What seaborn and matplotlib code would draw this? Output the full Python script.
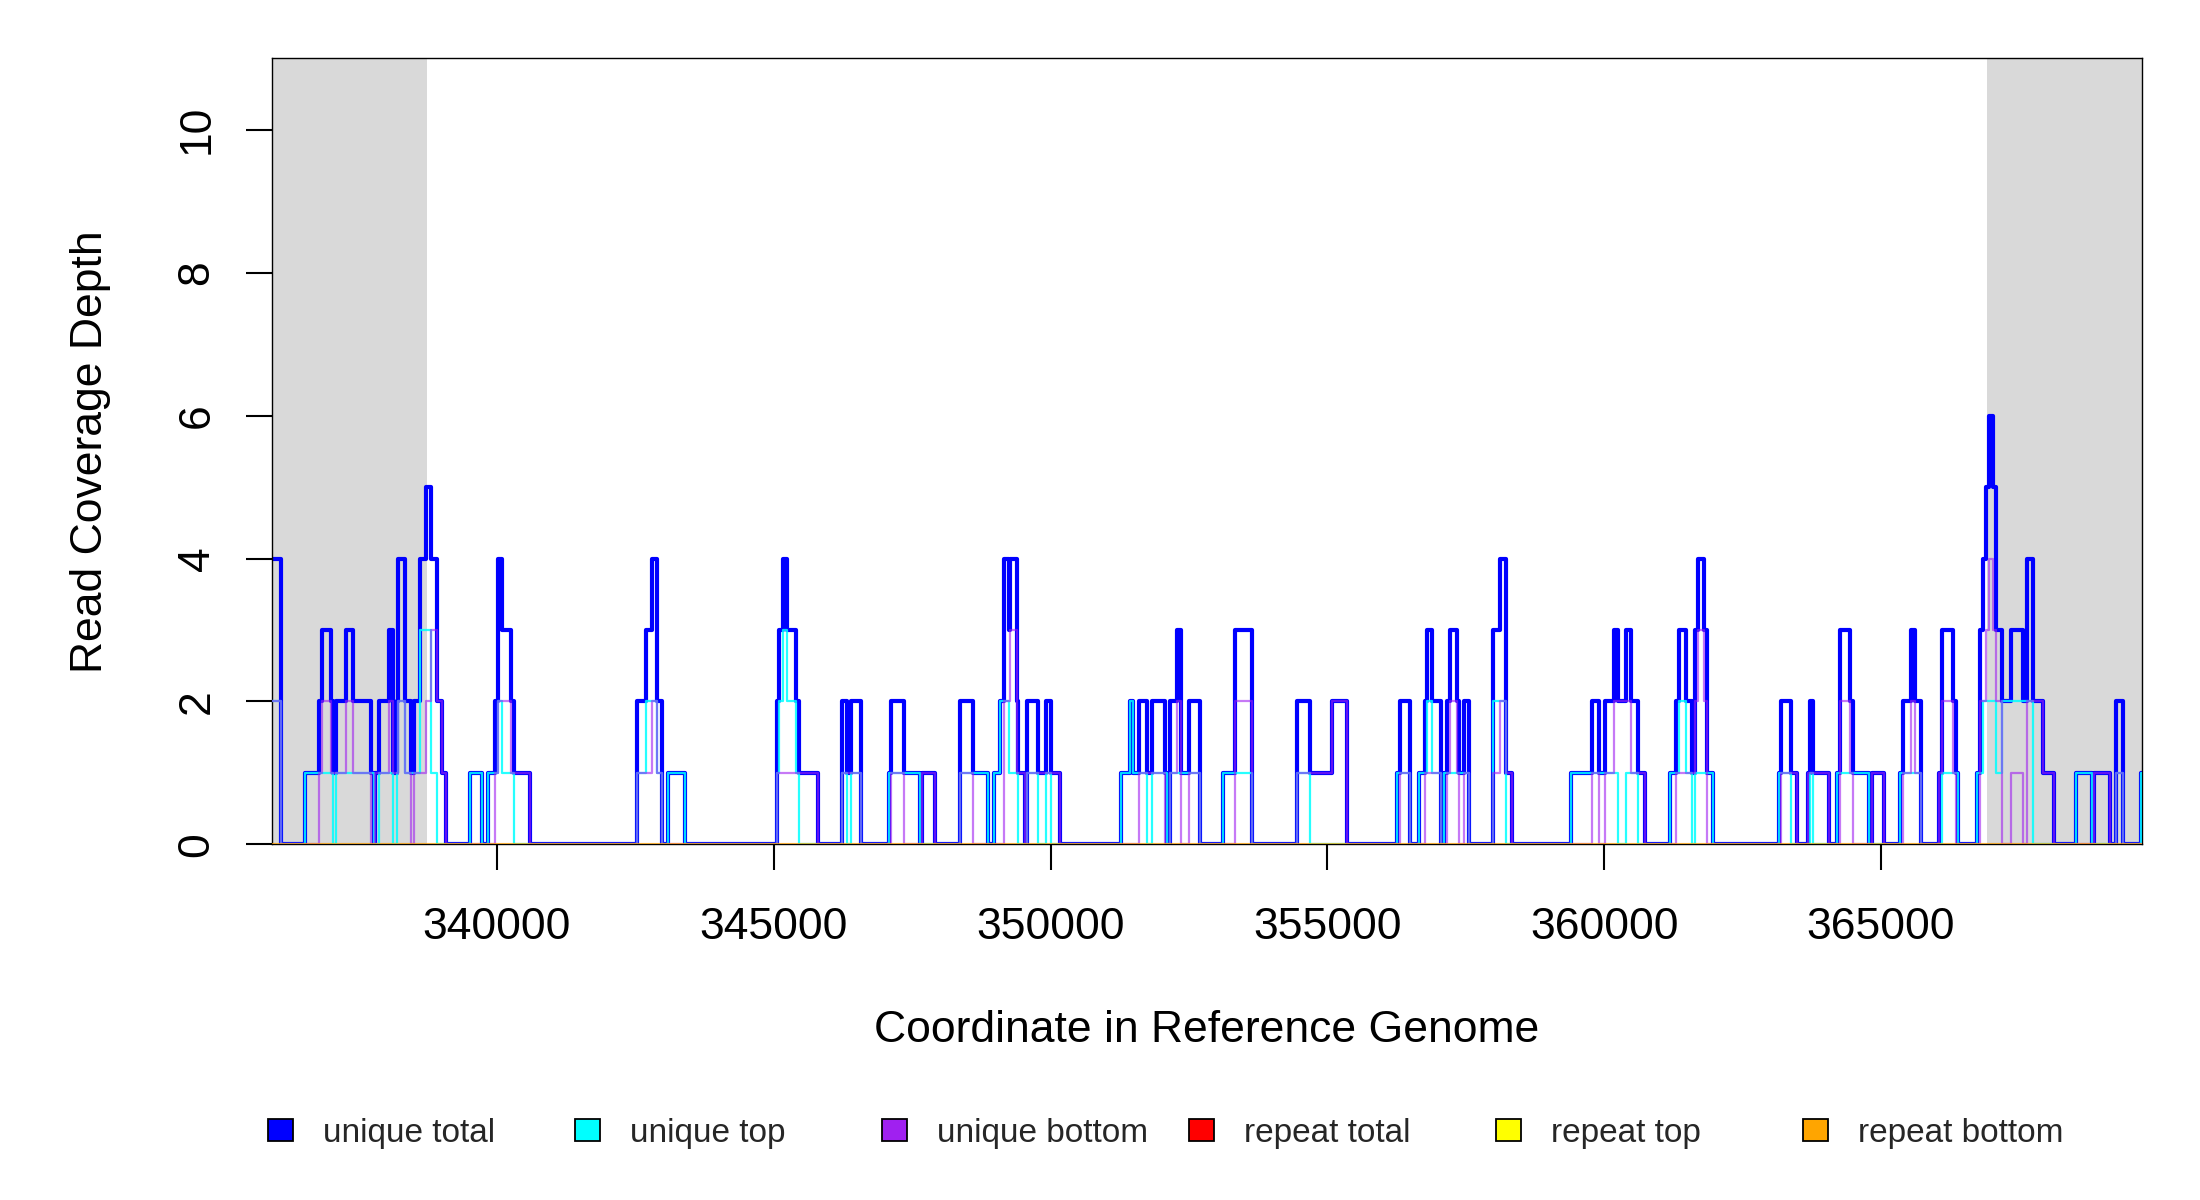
import numpy as np
import pandas as pd
import seaborn as sns
import matplotlib
matplotlib.use("Agg")
import matplotlib.pyplot as plt
from matplotlib.patches import Patch

# step breakpoints (genome coordinate where each level starts)
pos = [335930, 336090, 336540, 336780, 336830, 337000, 337040, 337100, 337270, 337400,
       337730, 337780, 337800, 337870, 338040, 338130, 338190, 338220, 338340, 338440,
       338500, 338610, 338720, 338800, 338910, 339010, 339080, 339510, 339730, 339840,
       339960, 340020, 340090, 340260, 340310, 340600, 342530, 342700, 342800, 342890,
       342980, 343090, 343390, 345050, 345100, 345160, 345240, 345400, 345450, 345800,
       346240, 346330, 346400, 346580, 347080, 347120, 347360, 347640, 347680, 347920,
       348360, 348590, 348870, 348970, 349090, 349150, 349240, 349270, 349390, 349420,
       349540, 349580, 349770, 349920, 350000, 350170, 351270, 351430, 351490, 351600,
       351740, 351830, 352070, 352110, 352160, 352280, 352350, 352500, 352690, 353110,
       353340, 353630, 354460, 354690, 355080, 355360, 356250, 356310, 356490, 356650,
       356760, 356800, 356890, 357050, 357110, 357160, 357210, 357340, 357380, 357460,
       357550, 357990, 358110, 358230, 358340, 359400, 359780, 359900, 360010, 360170,
       360250, 360390, 360480, 360620, 360740, 361190, 361300, 361360, 361470, 361590,
       361640, 361700, 361800, 361860, 361970, 363150, 363200, 363370, 363480, 363680,
       363710, 363780, 364060, 364200, 364260, 364440, 364500, 364780, 364830, 365060,
       365340, 365390, 365540, 365620, 365730, 366050, 366100, 366300, 366360, 366400,
       366730, 366780, 366850, 366900, 366950, 367030, 367080, 367190, 367340, 367560,
       367630, 367740, 367920, 368130, 368520, 368810, 368850, 369140, 369250, 369370,
       369690, 369710]

unique_total = [4, 0, 1, 2, 3, 2, 1, 2, 3, 2,
                1, 0, 1, 2, 3, 1, 2, 4, 2, 1,
                2, 4, 5, 4, 2, 1, 0, 1, 0, 1,
                2, 4, 3, 2, 1, 0, 2, 3, 4, 2,
                0, 1, 0, 2, 3, 4, 3, 2, 1, 0,
                2, 1, 2, 0, 1, 2, 1, 0, 1, 0,
                2, 1, 0, 1, 2, 4, 3, 4, 2, 1,
                0, 2, 1, 2, 1, 0, 1, 2, 1, 2,
                1, 2, 1, 0, 2, 3, 1, 2, 0, 1,
                3, 0, 2, 1, 2, 0, 1, 2, 0, 1,
                2, 3, 2, 0, 1, 2, 3, 2, 1, 2,
                0, 3, 4, 1, 0, 1, 2, 1, 2, 3,
                2, 3, 2, 1, 0, 1, 2, 3, 2, 1,
                3, 4, 3, 1, 0, 1, 2, 1, 0, 1,
                2, 1, 0, 1, 3, 2, 1, 0, 1, 0,
                1, 2, 3, 2, 0, 1, 3, 2, 1, 0,
                1, 3, 4, 5, 6, 5, 3, 2, 3, 2,
                4, 2, 1, 0, 1, 0, 1, 0, 2, 0,
                1, 1]

unique_top = [2, 0, 1, 1, 1, 1, 0, 1, 1, 1,
              1, 0, 0, 1, 1, 0, 1, 2, 1, 1,
              1, 3, 3, 1, 0, 0, 0, 1, 0, 1,
              1, 2, 1, 1, 0, 0, 1, 2, 2, 1,
              0, 1, 0, 1, 2, 3, 2, 1, 0, 0,
              1, 0, 1, 0, 1, 1, 1, 0, 0, 0,
              1, 1, 0, 1, 2, 2, 1, 1, 1, 0,
              0, 1, 0, 1, 0, 0, 1, 2, 1, 1,
              0, 1, 1, 0, 1, 1, 1, 1, 0, 1,
              1, 0, 1, 0, 0, 0, 1, 1, 0, 1,
              1, 2, 1, 0, 1, 1, 1, 1, 1, 1,
              0, 2, 2, 0, 0, 1, 1, 1, 1, 1,
              0, 1, 1, 0, 0, 1, 1, 2, 1, 0,
              1, 1, 1, 1, 0, 1, 1, 0, 0, 0,
              1, 0, 0, 1, 1, 1, 1, 0, 0, 0,
              1, 1, 1, 1, 0, 0, 1, 1, 1, 0,
              1, 1, 2, 2, 2, 2, 1, 2, 2, 2,
              2, 0, 0, 0, 1, 0, 0, 0, 1, 0,
              1, 1]

unique_bottom = [2, 0, 0, 1, 2, 1, 1, 1, 2, 1,
                 0, 0, 1, 1, 2, 1, 1, 2, 1, 0,
                 1, 1, 2, 3, 2, 1, 0, 0, 0, 0,
                 1, 2, 2, 1, 1, 0, 1, 1, 2, 1,
                 0, 0, 0, 1, 1, 1, 1, 1, 1, 0,
                 1, 1, 1, 0, 0, 1, 0, 0, 1, 0,
                 1, 0, 0, 0, 0, 2, 2, 3, 1, 1,
                 0, 1, 1, 1, 1, 0, 0, 0, 0, 1,
                 1, 1, 0, 0, 1, 2, 0, 1, 0, 0,
                 2, 0, 1, 1, 2, 0, 0, 1, 0, 0,
                 1, 1, 1, 0, 0, 1, 2, 1, 0, 1,
                 0, 1, 2, 1, 0, 0, 1, 0, 1, 2,
                 2, 2, 1, 1, 0, 0, 1, 1, 1, 1,
                 2, 3, 2, 0, 0, 0, 1, 1, 0, 1,
                 1, 1, 0, 0, 2, 1, 0, 0, 1, 0,
                 0, 1, 2, 1, 0, 1, 2, 1, 0, 0,
                 0, 2, 2, 3, 4, 3, 2, 0, 1, 0,
                 2, 2, 1, 0, 0, 0, 1, 0, 1, 0,
                 0, 0]

# repeat reads: none in this window
repeat_pos = [335930, 369710]
repeat_total = [0, 0]
repeat_top = [0, 0]
repeat_bottom = [0, 0]

flank_regions = [(335930, 338730), (366920, 369710)]
x_ticks = [340000, 345000, 350000, 355000, 360000, 365000]
y_ticks = [0, 2, 4, 6, 8, 10]

legend_labels = ["unique total", "unique top", "unique bottom",
                 "repeat total", "repeat top", "repeat bottom"]
legend_colors = ["#0000FF", "#00FFFF", "#A020F0", "#FF0000", "#FFFF00", "#FFA500"]

sns.set_theme(style="ticks")
plt.rcParams['font.family'] = ['Liberation Sans', 'DejaVu Sans']

fig = plt.figure(figsize=(22, 12), dpi=100)
ax = fig.add_axes([0.1235, 0.2964, 0.85, 0.655])

for lo, hi in flank_regions:
    ax.axvspan(lo, hi, color="#D9D9D9", lw=0, zorder=0)

unique = pd.DataFrame({"pos": pos, "total": unique_total,
                       "top": unique_top, "bottom": unique_bottom})
repeat = pd.DataFrame({"pos": repeat_pos, "total": repeat_total,
                       "top": repeat_top, "bottom": repeat_bottom})

sns.lineplot(data=unique, x="pos", y="total", color="#0000FF", lw=3.0,
             drawstyle="steps-post", estimator=None, sort=False, ax=ax, zorder=2)
sns.lineplot(data=unique, x="pos", y="top", color="#00FFFF", lw=1.6, alpha=0.85,
             drawstyle="steps-post", estimator=None, sort=False, ax=ax, zorder=3)
sns.lineplot(data=unique, x="pos", y="bottom", color="#A020F0", lw=1.6, alpha=0.6,
             drawstyle="steps-post", estimator=None, sort=False, ax=ax, zorder=4)
for col, c in zip(["total", "top", "bottom"], ["#FF0000", "#FFFF00", "#FFA500"]):
    sns.lineplot(data=repeat, x="pos", y=col, color=c, lw=1.5, alpha=0.35,
                 drawstyle="steps-post", estimator=None, sort=False, ax=ax, zorder=5)

ax.set_xlim(335930, 369710)
ax.set_ylim(0, 11)
ax.set_xticks(x_ticks)
ax.set_xticklabels([str(t) for t in x_ticks])
ax.set_yticks(y_ticks)
ax.set_yticklabels([str(t) for t in y_ticks])
ax.tick_params(axis="both", direction="out", length=19, width=1.5, labelsize=32,
               color="black", labelcolor="black")
ax.tick_params(axis="x", pad=26)
ax.tick_params(axis="y", pad=20, labelrotation=90)
for lab in ax.get_yticklabels():
    lab.set_va("center")
for sp in ax.spines.values():
    sp.set_visible(True)
    sp.set_color("black")
    sp.set_linewidth(1.0)

ax.set_xlabel("Coordinate in Reference Genome", fontsize=32, color="black")
ax.xaxis.set_label_coords(0.5, -0.2363)
ax.xaxis.label.set_va("center")
ax.set_ylabel("Read Coverage Depth", fontsize=32, color="black")
ax.yaxis.set_label_coords(-0.0968, 0.5)
ax.yaxis.label.set_va("center")

# one legend per item so they sit at equal spacing
for i, (lab, c) in enumerate(zip(legend_labels, legend_colors)):
    h = Patch(facecolor=c, edgecolor="black", lw=1.3)
    fig.legend(handles=[h], labels=[lab], loc="center left",
               bbox_to_anchor=((267.7 + i * 307) / 2200, 1 - 1133.5 / 1200),
               frameon=False, fontsize=24, handlelength=0.75, handleheight=0.63,
               handletextpad=0.9, borderpad=0, borderaxespad=0)

fig.savefig("out.png", dpi=100)
